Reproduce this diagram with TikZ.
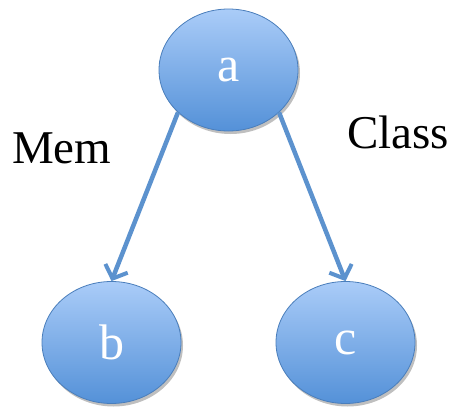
\documentclass[tikz,border=0pt]{standalone}
\usepackage{fontspec}
\setmainfont{Liberation Serif}
\usetikzlibrary{shapes.geometric,arrows.meta,shadows}
\definecolor{edgeblue}{RGB}{92,146,206}
\definecolor{ringblue}{RGB}{74,126,187}
\definecolor{toplight}{RGB}{170,204,248}
\definecolor{botdark}{RGB}{84,145,216}
\tikzset{
  bubble/.style={ellipse, draw=ringblue, line width=0.8pt, top color=toplight, bottom color=botdark,
    minimum width=139pt, minimum height=122pt, inner sep=0pt, text=white,
    font=\fontsize{50}{50}\selectfont,
    drop shadow={shadow xshift=2pt, shadow yshift=-3pt, opacity=0.25, fill=black}},
  link/.style={draw=edgeblue, line width=4.5pt, -{Straight Barb[length=11pt,width=24pt,line width=4pt]}},
  lab/.style={font=\fontsize{47}{47}\selectfont, inner sep=0pt, anchor=base west}
}
\begin{document}
\begin{tikzpicture}[x=1pt,y=-1pt]
\useasboundingbox (0,0) rectangle (456,407);
\node[bubble] (a) at (228.5,70) {a};
\node[bubble] (b) at (111.5,342.5) {b};
\node[bubble] (c) at (345.5,342.5) {c};
\draw[link] (a.220) -- (b.north);
\draw[link] (a.320) -- (c.north);
\node[lab] (mem) at (12,163) {Mem};
\node[lab] (class) at (347,148) {Class};
\end{tikzpicture}
\end{document}
